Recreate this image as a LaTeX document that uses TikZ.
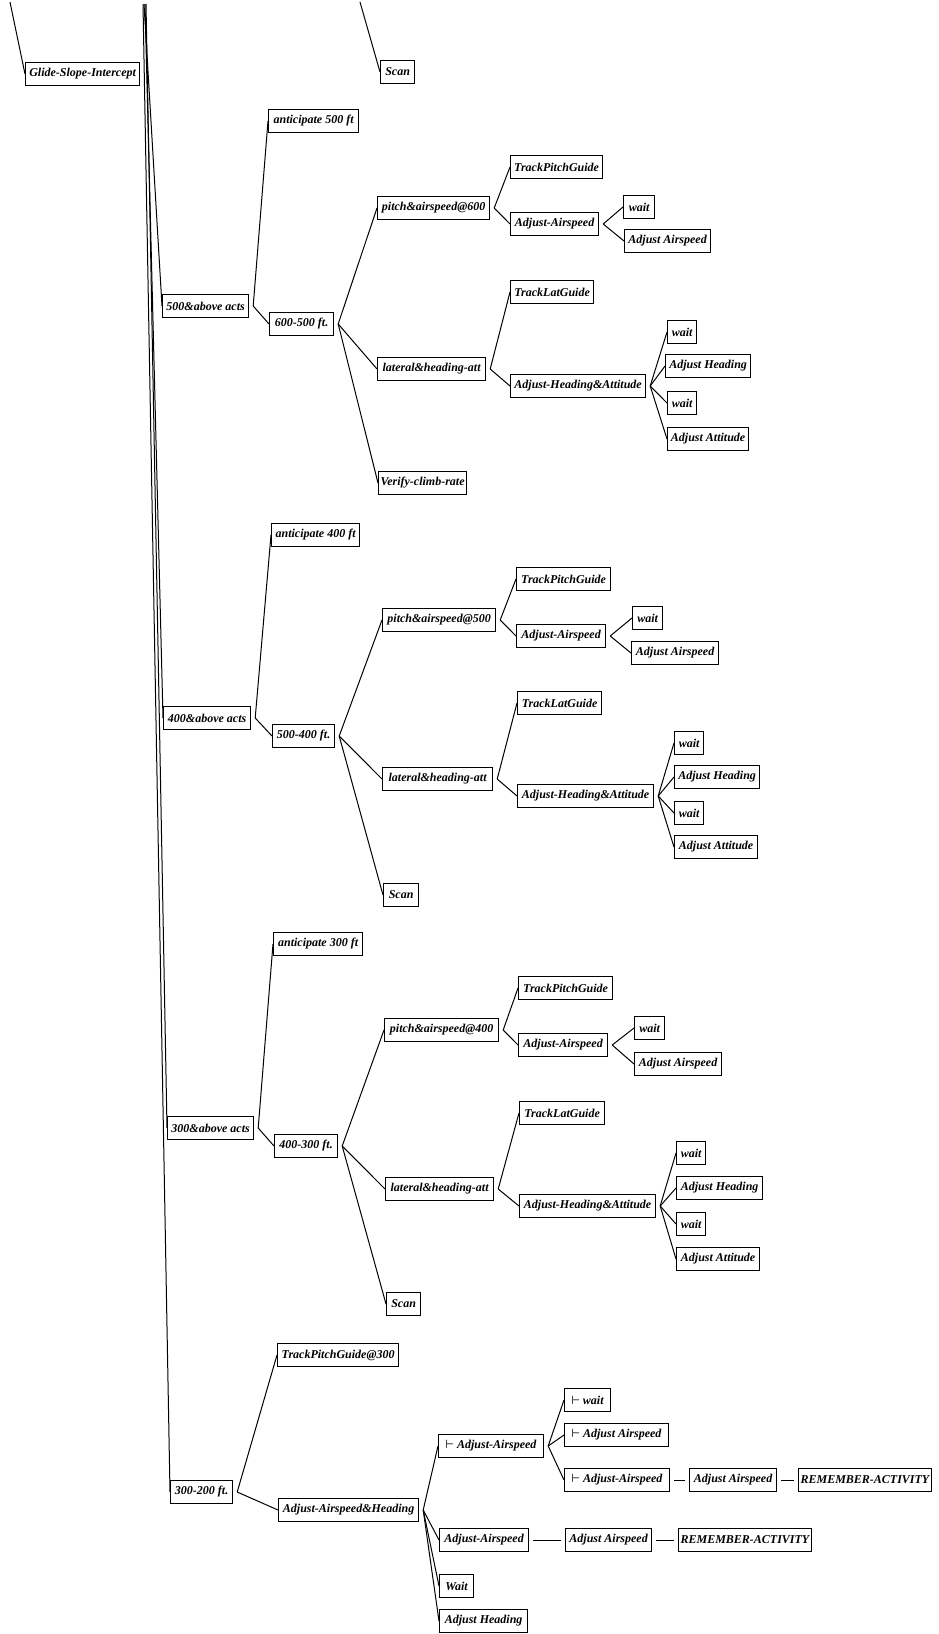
\documentclass[tikz,border=0pt]{standalone}
\usepackage{fontspec}
\setmainfont{Liberation Serif}
\tikzset{
  bx/.style={draw=black, line width=1.2pt, anchor=west, minimum height=23pt, inner xsep=2pt, inner ysep=0pt,
    font=\bfseries\itshape\fontsize{12}{14}\selectfont},
  cn/.style={draw=black, line width=1pt},
}
\newcommand{\nd}[5]{\node[bx, minimum width=#4pt] (#1) at (#2,#3) {#5};}
\newcommand{\lk}[2]{\draw[cn] ([xshift=4pt]#1.east) -- (#2.west);}
\newcommand{\hl}[2]{\draw[cn] ([xshift=4pt]#1.east) -- ([xshift=-4pt]#2.west);}
\newcommand{\vd}{{\boldmath$\vdash$}}
\begin{document}
\begin{tikzpicture}[x=1pt,y=-1pt]
\useasboundingbox (0,0) rectangle (938,1634);
\coordinate (topg) at (10,2);
\coordinate (tops) at (360,2);
\coordinate (topt) at (144,4);

% top
\nd{g1}{25}{74}{114}{Glide-Slope-Intercept}
\nd{scan0}{380}{72}{34}{Scan}
\nd{a5}{162}{306}{86}{500\&above acts}
\nd{ant5}{268}{121}{90}{anticipate 500 ft}
\nd{r65}{269}{324}{64}{600-500 ft.}
\nd{p6}{377}{208}{112}{pitch\&airspeed@600}
\nd{tpg1}{510}{167}{92}{TrackPitchGuide}
\nd{aa1}{510}{224}{88}{Adjust-Airspeed}
\nd{w1}{623}{207}{31}{wait}
\nd{adja1}{624}{241}{86}{Adjust Airspeed}
\nd{tlg1}{510}{292}{83}{TrackLatGuide}
\nd{lh1}{377}{369}{108}{lateral\&heading-att}
\nd{aha1}{510}{386}{135}{Adjust-Heading\&Attitude}
\nd{w2}{667}{332}{29}{wait}
\nd{ah1}{665}{366}{85}{Adjust Heading}
\nd{w3}{667}{403}{29}{wait}
\nd{att1}{667}{439}{81}{Adjust Attitude}
\nd{vcr}{378}{483}{87}{Verify-climb-rate}

% 400
\nd{a4}{163}{718}{87}{400\&above acts}
\nd{ant4}{271}{535}{88}{anticipate 400 ft}
\nd{r54}{272}{736}{62}{500-400 ft.}
\nd{p5}{382}{620}{113}{pitch\&airspeed@500}
\nd{tpg2}{516}{579}{94}{TrackPitchGuide}
\nd{aa2}{516}{636}{89}{Adjust-Airspeed}
\nd{w4}{632}{618}{30}{wait}
\nd{adja2}{631}{653}{87}{Adjust Airspeed}
\nd{tlg2}{517}{703}{84}{TrackLatGuide}
\nd{lh2}{382}{779}{110}{lateral\&heading-att}
\nd{aha2}{517}{796}{136}{Adjust-Heading\&Attitude}
\nd{w5}{674}{743}{29}{wait}
\nd{ah2}{674}{777}{85}{Adjust Heading}
\nd{w6}{674}{813}{29}{wait}
\nd{att2}{674}{847}{83}{Adjust Attitude}
\nd{scan2}{383}{895}{35}{Scan}

% 300
\nd{a3}{167}{1128}{86}{300\&above acts}
\nd{ant3}{273}{944}{89}{anticipate 300 ft}
\nd{r43}{274}{1146}{63}{400-300 ft.}
\nd{p4}{384}{1030}{114}{pitch\&airspeed@400}
\nd{tpg3}{518}{988}{94}{TrackPitchGuide}
\nd{aa3}{518}{1045}{89}{Adjust-Airspeed}
\nd{w7}{634}{1028}{30}{wait}
\nd{adja3}{634}{1064}{87}{Adjust Airspeed}
\nd{tlg3}{519}{1113}{85}{TrackLatGuide}
\nd{lh3}{385}{1189}{108}{lateral\&heading-att}
\nd{aha3}{519}{1206}{136}{Adjust-Heading\&Attitude}
\nd{w8}{676}{1153}{29}{wait}
\nd{ah3}{676}{1188}{86}{Adjust Heading}
\nd{w9}{676}{1224}{29}{wait}
\nd{att3}{676}{1259}{83}{Adjust Attitude}
\nd{scan3}{386}{1304}{34}{Scan}

% 300-200
\nd{r32}{170}{1492}{62}{300-200 ft.}
\nd{tpg300}{277}{1355}{121}{TrackPitchGuide@300}
\nd{aah}{278}{1510}{140}{Adjust-Airspeed\&Heading}
\nd{vaa}{438}{1446}{105}{\vd{} Adjust-Airspeed}
\nd{vw}{564}{1400}{46}{\vd{} wait}
\nd{vadj}{564}{1435}{104}{\vd{} Adjust Airspeed}
\nd{vaa2}{564}{1480}{105}{\vd{} Adjust-Airspeed}
\nd{adj4}{689}{1480}{87}{Adjust Airspeed}
\nd{rem1}{798}{1480}{129}{REMEMBER-ACTIVITY}
\nd{aa4}{439}{1540}{89}{Adjust-Airspeed}
\nd{adj5}{565}{1540}{86}{Adjust Airspeed}
\nd{rem2}{678}{1540}{130}{REMEMBER-ACTIVITY}
\nd{wt}{439}{1586}{34}{Wait}
\nd{ahd}{439}{1621}{88}{Adjust Heading}

% connectors from the top
\draw[cn] (topg) -- (g1.west);
\draw[cn] (tops) -- (scan0.west);
\draw[cn] (topt) -- (a5.west);
\draw[cn] ([xshift=1pt]topt) -- (a4.west);
\draw[cn] ([xshift=2pt]topt) -- (a3.west);
\draw[cn] ([xshift=-1pt]topt) -- (r32.west);

% 500 branch
\lk{a5}{ant5} \lk{a5}{r65}
\lk{r65}{p6} \lk{r65}{lh1} \lk{r65}{vcr}
\lk{p6}{tpg1} \lk{p6}{aa1}
\lk{aa1}{w1} \lk{aa1}{adja1}
\lk{lh1}{tlg1} \lk{lh1}{aha1}
\lk{aha1}{w2} \lk{aha1}{ah1} \lk{aha1}{w3} \lk{aha1}{att1}

% 400 branch
\lk{a4}{ant4} \lk{a4}{r54}
\lk{r54}{p5} \lk{r54}{lh2} \lk{r54}{scan2}
\lk{p5}{tpg2} \lk{p5}{aa2}
\lk{aa2}{w4} \lk{aa2}{adja2}
\lk{lh2}{tlg2} \lk{lh2}{aha2}
\lk{aha2}{w5} \lk{aha2}{ah2} \lk{aha2}{w6} \lk{aha2}{att2}

% 300 branch
\lk{a3}{ant3} \lk{a3}{r43}
\lk{r43}{p4} \lk{r43}{lh3} \lk{r43}{scan3}
\lk{p4}{tpg3} \lk{p4}{aa3}
\lk{aa3}{w7} \lk{aa3}{adja3}
\lk{lh3}{tlg3} \lk{lh3}{aha3}
\lk{aha3}{w8} \lk{aha3}{ah3} \lk{aha3}{w9} \lk{aha3}{att3}

% 300-200 branch
\lk{r32}{tpg300} \lk{r32}{aah}
\lk{aah}{vaa} \lk{aah}{aa4} \lk{aah}{wt} \lk{aah}{ahd}
\lk{vaa}{vw} \lk{vaa}{vadj} \lk{vaa}{vaa2}
\hl{vaa2}{adj4} \hl{adj4}{rem1}
\hl{aa4}{adj5} \hl{adj5}{rem2}
\end{tikzpicture}
\end{document}
